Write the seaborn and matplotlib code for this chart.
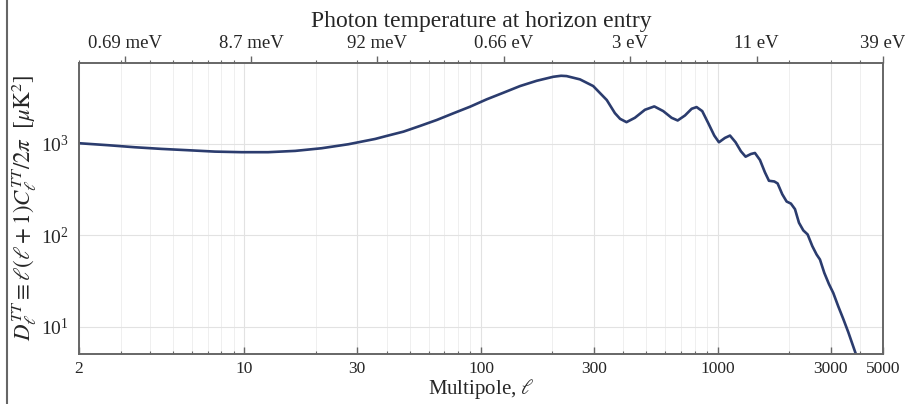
import numpy as np
import pandas as pd
import matplotlib
matplotlib.use("Agg")
import matplotlib.pyplot as plt
import matplotlib.ticker as mticker
from matplotlib.lines import Line2D
import seaborn as sns

# ---- data ----
ell = [2, 2.66, 3.44, 4.47, 5.79, 7.51, 9.74, 12.6, 16.4, 21.2, 27.5, 35.7,
       39.9, 47.0, 55.2, 65.0, 76.4, 89.9, 105.7, 124.3, 146.2, 172, 202, 218,
       230, 262, 298, 340, 368, 387, 412, 447, 493, 540, 589, 639, 678, 728,
       777, 815, 861, 913, 968, 1013, 1074, 1128, 1191, 1255, 1313, 1383, 1438,
       1510, 1585, 1648, 1736, 1793, 1876, 1957, 2041, 2123, 2207, 2302, 2401,
       2513, 2620, 2707, 2824, 2954, 3082, 3236, 3397, 3567, 3831, 3900]
dl = [1018, 968, 920, 882, 853, 824, 812, 812, 839, 897, 992, 1134,
      1223, 1363, 1573, 1829, 2165, 2557, 3080, 3637, 4304, 4918, 5439, 5580,
      5536, 5094, 4304, 3027, 2176, 1884, 1732, 1933, 2367, 2576, 2289, 1933,
      1807, 2051, 2428, 2533, 2289, 1689, 1235, 1043, 1164, 1235, 1043, 830,
      725, 776, 796, 667, 488, 395, 388, 369, 281, 234, 222, 193, 137, 113, 102,
      76.0, 61.5, 54.2, 38.7, 29.2, 23.3, 16.6, 12.1, 8.66, 5.08, 4.5]

bottom_ticks = [2, 10, 30, 100, 300, 1000, 3000, 5000]
bottom_labels = ["2", "10", "30", "100", "300", "1000", "3000", "5000"]
top_ticks = [3.13, 10.7, 36.4, 125, 427, 1460, 5000]
top_labels = ["0.69 meV", "8.7 meV", "92 meV", "0.66 eV", "3 eV", "11 eV", "39 eV"]

df = pd.DataFrame({"ell": ell, "dl": dl})

sns.set_style("white")
plt.rcParams["font.family"] = ["Liberation Serif", "DejaVu Serif"]
plt.rcParams["mathtext.fontset"] = "stix"

fig = plt.figure(figsize=(9.05, 4.04), dpi=100)
ax = fig.add_axes([79/905, 1-354/404, (883-79)/905, (354-63)/404])

sns.lineplot(data=df, x="ell", y="dl", ax=ax, color="#2b3c6e", lw=1.9)
ax.set_xscale("log")
ax.set_yscale("log")
ax.set_xlim(2, 5000)
ax.set_ylim(5.0, 7700)

ax.set_xticks(bottom_ticks)
ax.set_xticklabels(bottom_labels)
ax.xaxis.set_minor_locator(mticker.LogLocator(base=10, subs=np.arange(2, 10)))
ax.xaxis.set_minor_formatter(mticker.NullFormatter())
ax.yaxis.set_major_locator(mticker.LogLocator(base=10))
ax.yaxis.set_minor_locator(mticker.LogLocator(base=10, subs=np.arange(2, 10)))
ax.yaxis.set_minor_formatter(mticker.NullFormatter())

ax.grid(which="major", color="#e2e2e2", lw=0.8)
ax.grid(which="minor", axis="x", color="#efefef", lw=0.7)
ax.set_axisbelow(True)

for s in ax.spines.values():
    s.set_color("#666666")
    s.set_linewidth(1.2)

ax.tick_params(axis="x", which="major", direction="in", length=5, width=1,
               color="#666666", labelsize=12.5, pad=5)
ax.tick_params(axis="x", which="minor", direction="in", length=2.5, width=0.8,
               color="#666666")
ax.tick_params(axis="y", which="major", direction="out", length=4, width=1,
               color="#666666", labelsize=14)
ax.tick_params(axis="y", which="minor", direction="in", length=2.5, width=0.8,
               color="#666666")

ax.set_xlabel(r"Multipole, $\ell$", fontsize=15, labelpad=0)
ax.set_ylabel(r"$D_\ell^{TT} \equiv \ell(\ell+1)C_\ell^{TT}/2\pi\ \ [\mu\mathrm{K}^2]$",
              fontsize=16.5)
ax.yaxis.set_label_coords(-0.05, 0.5)

top = ax.twiny()
top.set_xscale("log")
top.set_xlim(ax.get_xlim())
top.set_xticks(top_ticks)
top.set_xticklabels(top_labels)
top.xaxis.set_minor_locator(mticker.LogLocator(base=10, subs=np.arange(2, 10)))
top.xaxis.set_minor_formatter(mticker.NullFormatter())
top.tick_params(axis="x", which="major", direction="out", length=5, width=1,
                color="#666666", labelsize=13.5, pad=3)
top.tick_params(axis="x", which="minor", direction="out", length=2.5, width=0.8,
                color="#666666")
for s in top.spines.values():
    s.set_color("#666666")
    s.set_linewidth(1.2)
top.set_xlabel("Photon temperature at horizon entry", fontsize=17, labelpad=6)

fig.add_artist(Line2D([7/905, 7/905], [0, 1], color="#666666", lw=1.5))

fig.savefig("out.png", dpi=100)
